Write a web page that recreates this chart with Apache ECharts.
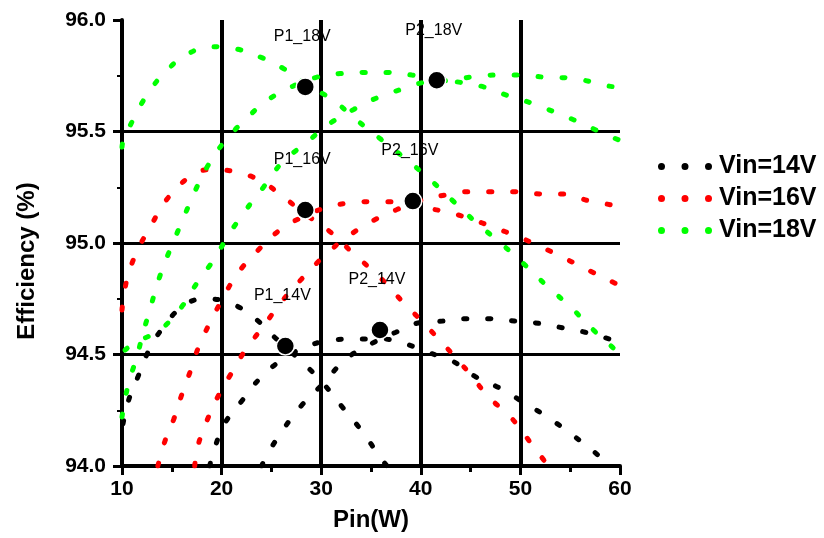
<!DOCTYPE html>
<html>
<head>
<meta charset="utf-8">
<script src="https://cdn.jsdelivr.net/npm/echarts@6/dist/echarts.min.js"></script>
<style>html,body{margin:0;padding:0;background:#fff;}#chart{width:824px;height:538px;}</style>
</head>
<body>
<div id="chart"></div>
<script>
// ---- data ----
const seriesNames = ['Vin=14V', 'Vin=16V', 'Vin=18V'];
const xTicks = [10, 20, 30, 40, 50, 60];
const yTicks = [94.0, 94.5, 95.0, 95.5, 96.0];

// Vin=14V curves [Pin, efficiency]
const vin14Curve1 = [[10.1,94.19],[10.7,94.30],[11.6,94.40],[12.6,94.51],[14.1,94.62],[16.2,94.72],[18.3,94.75],[20.9,94.73],[23.4,94.66],[25.5,94.57],[28.0,94.47],[30.2,94.37],[32.2,94.26],[34.2,94.15],[35.9,94.04],[36.6,94.0]];
const vin14Curve2 = [[18.8,94.0],[19.3,94.08],[20.3,94.19],[22.0,94.29],[24.0,94.40],[26.2,94.48],[28.8,94.54],[31.2,94.565],[33.6,94.57],[36.0,94.57],[38.3,94.55],[40.7,94.51],[43.2,94.47],[45.5,94.40],[47.9,94.35],[50.5,94.28],[52.7,94.22],[55.2,94.14],[57.5,94.06],[59.0,94.0]];
const vin14Curve3 = [[24.0,94.0],[24.7,94.06],[26.2,94.165],[28.0,94.27],[30.2,94.37],[32.5,94.48],[35.1,94.55],[37.5,94.60],[39.6,94.64],[42.2,94.65],[44.6,94.66],[46.9,94.66],[49.4,94.65],[51.8,94.64],[54.2,94.62],[56.5,94.60],[58.9,94.57],[60,94.555]];

// Vin=16V curves
const vin16Curve1 = [[10.0,94.70],[10.2,94.77],[10.7,94.87],[11.7,94.98],[13.0,95.085],[14.4,95.19],[16.6,95.29],[18.9,95.33],[21.3,95.32],[23.9,95.28],[26.1,95.21],[28.4,95.13],[30.9,95.05],[33.3,94.95],[35.8,94.85],[38.1,94.74],[40.3,94.64],[42.6,94.53],[44.8,94.42],[46.8,94.31],[49.0,94.22],[51.1,94.10],[52.8,94.0]];
const vin16Curve2 = [[13.6,94.0],[14.3,94.11],[15.2,94.21],[16.0,94.32],[16.9,94.43],[17.7,94.535],[18.8,94.64],[20.1,94.75],[21.5,94.857],[23.5,94.96],[25.9,95.06],[28.3,95.12],[30.6,95.16],[32.9,95.18],[35.3,95.185],[37.6,95.185],[40.2,95.16],[42.5,95.14],[44.9,95.11],[47.3,95.07],[49.7,95.03],[52.2,94.98],[54.5,94.93],[57.2,94.87],[59.5,94.82],[60,94.81]];
const vin16Curve3 = [[17.3,94.0],[17.6,94.087],[18.5,94.20],[19.5,94.30],[20.9,94.41],[22.5,94.528],[24.1,94.62],[25.9,94.73],[28.0,94.837],[30.4,94.946],[32.7,95.03],[35.2,95.10],[37.6,95.15],[39.9,95.19],[42.4,95.215],[44.8,95.23],[47.1,95.23],[49.5,95.23],[52.1,95.22],[54.4,95.22],[56.8,95.19],[59.2,95.17],[60,95.16]];

// Vin=18V curves
const vin18Curve1 = [[10.0,95.43],[10.1,95.454],[11.24,95.564],[12.6,95.67],[14.4,95.77],[16.7,95.85],[19.0,95.88],[21.5,95.87],[24.1,95.83],[26.3,95.78],[28.6,95.71],[31.2,95.64],[33.6,95.55],[36.0,95.465],[38.4,95.38],[40.8,95.29],[43.2,95.19],[45.6,95.09],[48.0,95.0],[50.5,94.90],[52.6,94.81],[55.1,94.71],[57.4,94.607],[59.8,94.51],[60,94.50]];
const vin18Curve2 = [[10.0,94.22],[10.2,94.274],[10.7,94.378],[11.5,94.49],[12.1,94.595],[12.8,94.70],[13.5,94.81],[14.3,94.912],[15.3,95.02],[16.3,95.126],[17.3,95.23],[18.6,95.345],[20.2,95.45],[22.3,95.55],[24.6,95.64],[27.0,95.70],[29.5,95.743],[31.9,95.76],[34.3,95.765],[36.7,95.765],[39.1,95.753],[41.6,95.735],[44.0,95.72],[46.3,95.70],[48.8,95.66],[51.2,95.626],[53.5,95.586],[56.0,95.54],[58.4,95.49],[60,95.46]];
const vin18Curve3 = [[10.3,94.52],[11.3,94.553],[13.8,94.61],[16.0,94.714],[17.6,94.826],[19.2,94.924],[20.7,95.036],[22.3,95.14],[24.2,95.25],[26.0,95.357],[28.5,95.45],[30.9,95.537],[33.3,95.60],[35.7,95.653],[38.1,95.69],[40.3,95.72],[43.1,95.73],[45.3,95.746],[47.7,95.753],[50.1,95.753],[52.6,95.743],[55.0,95.74],[57.4,95.72],[59.7,95.70],[60,95.70]];

// transition points
const markerLabels = ['P1_18V','P2_18V','P1_16V','P2_16V','P1_14V','P2_14V'];
const markerX = [28.4, 41.6, 28.4, 39.2, 26.4, 35.9];
const markerY = [95.70, 95.73, 95.148, 95.188, 94.538, 94.61];

// ---- chart ----
const colors = { 'Vin=14V': '#000000', 'Vin=16V': '#ff0000', 'Vin=18V': '#00ff00' };
const curveSets = [
  ['Vin=14V', [vin14Curve1, vin14Curve2, vin14Curve3]],
  ['Vin=16V', [vin16Curve1, vin16Curve2, vin16Curve3]],
  ['Vin=18V', [vin18Curve1, vin18Curve2, vin18Curve3]]
];
const series = [];
curveSets.forEach(([name, curves]) => {
  curves.forEach(c => {
    series.push({
      name: name,
      type: 'line',
      data: c,
      smooth: 0.4,
      showSymbol: false,
      symbol: 'none',
      clip: true,
      color: colors[name],
      lineStyle: { color: colors[name], width: 5, type: [3, 21], cap: 'round' },
      emphasis: { disabled: true },
      z: 3
    });
  });
});
series.push({
  type: 'scatter',
  data: markerLabels.map((n, i) => ({ name: n, value: [markerX[i], markerY[i]] })),
  symbolSize: 18,
  itemStyle: { color: '#000', borderColor: '#fff', borderWidth: 1.5, opacity: 1 },
  emphasis: { disabled: true },
  label: {
    show: true, formatter: '{b}', position: 'inside', offset: [-3, -50],
    color: '#000', opacity: 1, fontSize: 16, fontFamily: 'Liberation Sans'
  },
  z: 10
});

const dots = 'path://M0,3.5a3.5,3.5 0 1,0 7,0a3.5,3.5 0 1,0 -7,0zM23.5,3.5a3.5,3.5 0 1,0 7,0a3.5,3.5 0 1,0 -7,0zM47,3.5a3.5,3.5 0 1,0 7,0a3.5,3.5 0 1,0 -7,0z';

const chart = echarts.init(document.getElementById('chart'), null, { renderer: 'canvas' });
chart.setOption({
  animation: false,
  backgroundColor: '#fff',
  grid: { left: 122, right: 204, top: 20, bottom: 72, containLabel: false },
  legend: {
    data: seriesNames,
    orient: 'vertical',
    left: 653, top: 149,
    itemGap: 7,
    itemWidth: 54, itemHeight: 7,
    icon: dots,
    itemStyle: { borderWidth: 0 },
    lineStyle: { width: 0 },
    textStyle: { fontSize: 25, fontWeight: 'bold', fontFamily: 'Liberation Sans', color: '#000', padding: [0, 0, 0, 2] }
  },
  xAxis: {
    type: 'value', min: xTicks[0], max: xTicks[xTicks.length - 1], interval: 10,
    name: 'Pin(W)', nameLocation: 'middle', nameGap: 42,
    nameTextStyle: { fontSize: 24, fontWeight: 'bold', fontFamily: 'Liberation Sans', color: '#000' },
    axisLine: { show: true, onZero: false, lineStyle: { color: '#000', width: 4 } },
    axisTick: { show: true, length: 9, lineStyle: { color: '#000', width: 3 } },
    minorTick: { show: true, splitNumber: 2, length: 6, lineStyle: { color: '#000', width: 3 } },
    splitLine: { show: true, showMinLine: false, showMaxLine: false, lineStyle: { color: '#000', width: 4 } },
    axisLabel: { fontSize: 21, fontWeight: 'bold', fontFamily: 'Liberation Sans', color: '#000', margin: 13 }
  },
  yAxis: {
    type: 'value', min: yTicks[0], max: yTicks[yTicks.length - 1], interval: 0.5,
    name: 'Efficiency (%)', nameLocation: 'middle', nameGap: 83,
    nameTextStyle: { fontSize: 24, fontWeight: 'bold', fontFamily: 'Liberation Sans', color: '#000', padding: [0, 36, 0, 0] },
    axisLine: { show: true, onZero: false, lineStyle: { color: '#000', width: 4 } },
    axisTick: { show: true, length: 9, lineStyle: { color: '#000', width: 3 } },
    minorTick: { show: true, splitNumber: 2, length: 5, lineStyle: { color: '#000', width: 2 } },
    splitLine: { show: true, showMinLine: false, showMaxLine: false, lineStyle: { color: '#000', width: 3 } },
    axisLabel: { fontSize: 21, fontWeight: 'bold', fontFamily: 'Liberation Sans', color: '#000', margin: 16,
      formatter: v => v.toFixed(1) }
  },
  series: series
});
</script>
</body>
</html>
